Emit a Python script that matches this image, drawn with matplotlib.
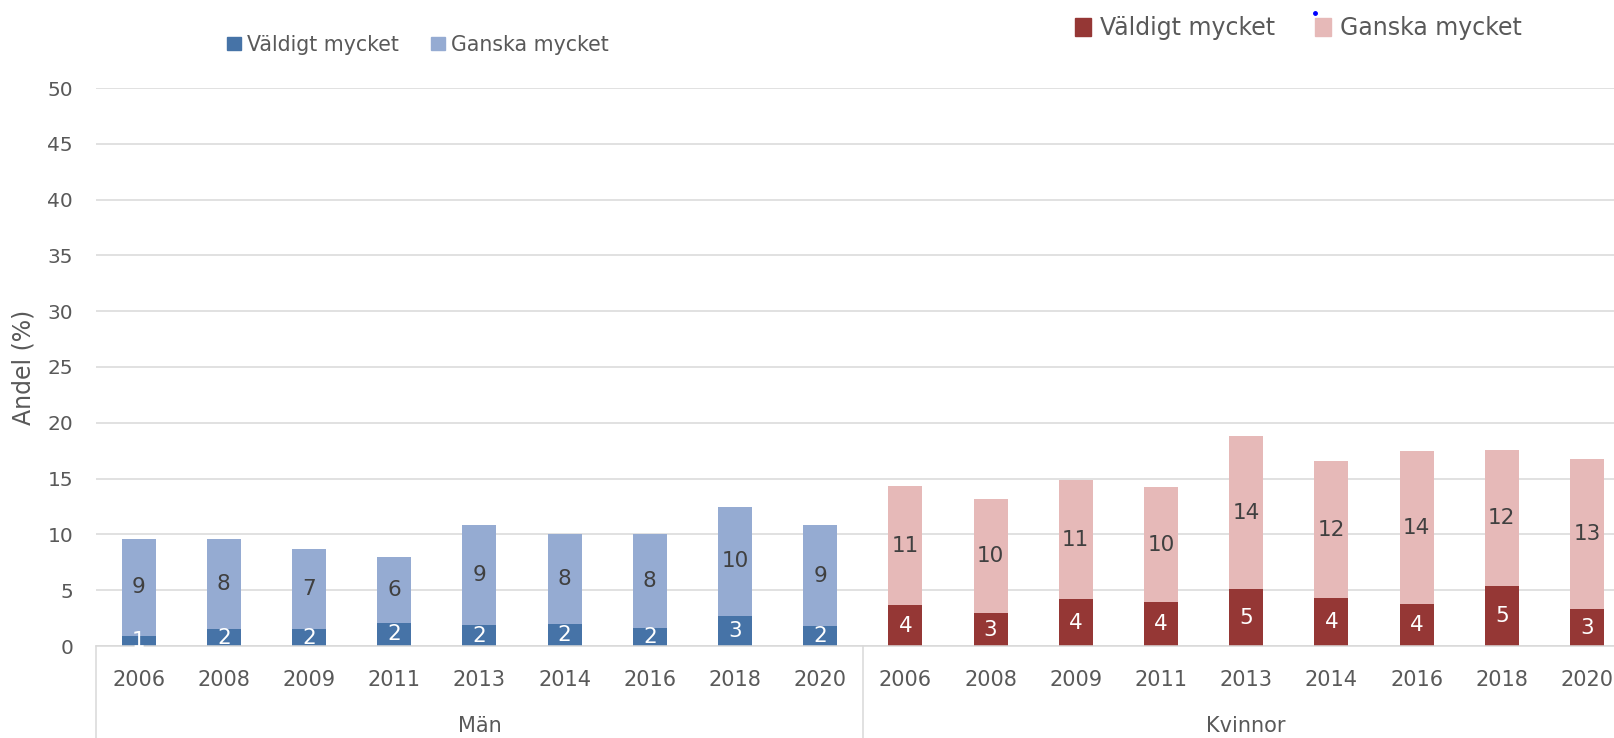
import matplotlib
matplotlib.use("Agg")
import matplotlib.pyplot as plt
from matplotlib.patches import Patch
from matplotlib.lines import Line2D

# data
ar = ["2006", "2008", "2009", "2011", "2013", "2014", "2016", "2018", "2020"]
grupper = ["Män", "Kvinnor"]
man_valdigt = [0.9, 1.5, 1.5, 2.1, 1.85, 1.95, 1.6, 2.65, 1.8]
man_ganska = [8.7, 8.1, 7.2, 5.9, 8.95, 8.05, 8.4, 9.85, 9.0]
kv_valdigt = [3.64, 2.93, 4.18, 3.91, 5.07, 4.27, 3.73, 5.34, 3.28]
kv_ganska = [10.66, 10.2, 10.66, 10.3, 13.71, 12.27, 13.7, 12.18, 13.44]
serier = ["Väldigt mycket", "Ganska mycket"]
y_ticks = [0, 5, 10, 15, 20, 25, 30, 35, 40, 45, 50]

BLA_MORK = "#4673a7"
BLA_LJUS = "#95abd2"
ROD_MORK = "#953735"
ROD_LJUS = "#e6b9b8"
GRA_TEXT = "#595959"
GRA_LINJE = "#d9d9d9"

W, H = 1614, 738
fig = plt.figure(figsize=(W / 100, H / 100), dpi=100)
ax = fig.add_axes([96 / W, 92 / H, 1533.6 / W, 558 / H])

n = len(ar)
x_man = list(range(n))
x_kv = list(range(n, 2 * n))
bredd = 0.4


def rita_grupp(x, valdigt, ganska, mork, ljus):
    b1 = ax.bar(x, valdigt, width=bredd, color=mork, zorder=2)
    b2 = ax.bar(x, ganska, width=bredd, bottom=valdigt, color=ljus, zorder=2)
    for xi, v, g in zip(x, valdigt, ganska):
        ax.text(xi, v / 2, f"{v:.0f}", ha="center", va="center",
                color="white", fontsize=15.5, zorder=3)
        ax.text(xi, v + g / 2, f"{g:.0f}", ha="center", va="center",
                color="#404040", fontsize=15.5, zorder=3)
    return b1, b2


rita_grupp(x_man, man_valdigt, man_ganska, BLA_MORK, BLA_LJUS)
rita_grupp(x_kv, kv_valdigt, kv_ganska, ROD_MORK, ROD_LJUS)

ax.set_xlim(-0.5, 2 * n - 0.5)
ax.set_ylim(0, 50)
ax.set_yticks(y_ticks)
ax.set_xticks(x_man + x_kv)
ax.set_xticklabels(ar + ar)
ax.tick_params(axis="y", length=0, pad=16.5, labelsize=14.5, labelcolor=GRA_TEXT)
ax.tick_params(axis="x", length=0, pad=17, labelsize=15, labelcolor=GRA_TEXT)
ax.grid(axis="y", color=GRA_LINJE, linewidth=1.1)
ax.set_axisbelow(True)
for s in ["top", "right", "left"]:
    ax.spines[s].set_visible(False)
ax.spines["bottom"].set_color(GRA_LINJE)
ax.spines["bottom"].set_linewidth(1.1)

ax.set_ylabel("Andel (%)", fontsize=17, color=GRA_TEXT)
ax.yaxis.set_label_coords(-(96 - 35) / 1533.6, 0.5)

# gruppetiketter och avdelare under axeln
trans = ax.get_xaxis_transform()
for i, namn in enumerate(grupper):
    ax.text(i * n + (n - 1) / 2, -0.1434, namn, transform=trans,
            ha="center", va="center", fontsize=15, color=GRA_TEXT)
for gx in [-0.5, n - 0.5]:
    ax.plot([gx, gx], [0, -0.166], transform=trans, color=GRA_LINJE,
            linewidth=1.1, clip_on=False)

# legender
h_man = [Patch(color=BLA_MORK), Patch(color=BLA_LJUS)]
leg1 = fig.legend(h_man, serier, loc="center left", bbox_to_anchor=(227 / W, 1 - 45 / H),
                  ncol=2, frameon=False, fontsize=14.8, handlelength=0.68,
                  handleheight=0.6, handletextpad=0.3, columnspacing=1.55,
                  borderpad=0, borderaxespad=0, labelcolor=GRA_TEXT)

h_kv = [Patch(color=ROD_MORK), Patch(color=ROD_LJUS)]
leg2 = fig.legend(h_kv, serier, loc="center left", bbox_to_anchor=(1075 / W, 1 - 28 / H),
                  ncol=2, frameon=False, fontsize=17, handlelength=0.68,
                  handleheight=0.8, handletextpad=0.38, columnspacing=1.7,
                  borderpad=0, borderaxespad=0, labelcolor=GRA_TEXT)

# liten blå prick vid legenden
fig.add_artist(Line2D([1315 / W], [1 - 13 / H], marker="o", markersize=2.5,
                      color="blue", transform=fig.transFigure))

fig.savefig("out.png", dpi=100)
